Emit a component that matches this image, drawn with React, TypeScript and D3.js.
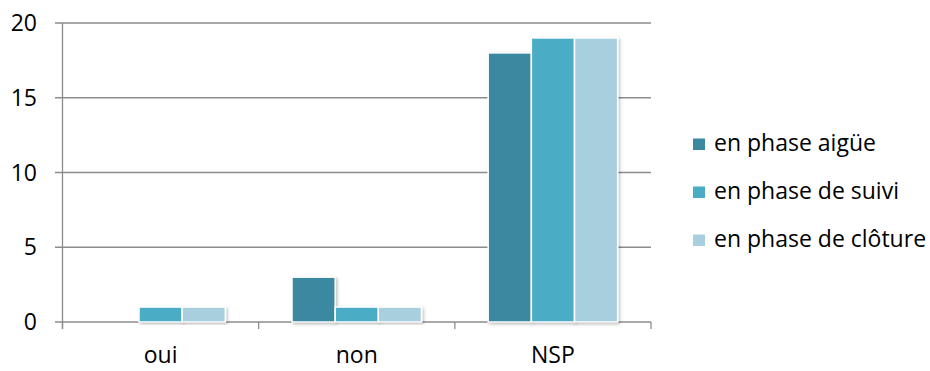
import React from "react";
import * as d3 from "d3";

const categories = ["oui", "non", "NSP"];
const seriesNames = ["en phase aigüe", "en phase de suivi", "en phase de clôture"];
const aigue = [0, 3, 18];
const suivi = [1, 1, 19];
const cloture = [1, 1, 19];
const yTicks = [0, 5, 10, 15, 20];
const colors = ["#3A89A0", "#4BACC6", "#A8CFDE"];

const W = 930;
const H = 371;
const margin = { left: 62.5, right: 279, top: 23, bottom: 49 };

export default function App() {
  const series = [aigue, suivi, cloture];
  const x0 = d3
    .scaleBand<string>()
    .domain(categories)
    .range([margin.left, W - margin.right])
    .paddingInner(0.34)
    .paddingOuter(0.17);
  const x1 = d3
    .scaleBand<number>()
    .domain(d3.range(series.length))
    .range([0, x0.bandwidth()]);
  const y = d3
    .scaleLinear()
    .domain([0, 20])
    .range([H - margin.bottom, margin.top]);
  const font = "'Open Sans', sans-serif";
  const fs = 23;
  const stepW = (W - margin.right - margin.left) / categories.length;

  return (
    <svg
      width={W}
      height={H}
      style={{ position: "absolute", left: 0, top: 0, background: "#fff" }}
      fontFamily={font}
    >
      <defs>
        <filter id="shadow" x="-20%" y="-20%" width="140%" height="140%">
          <feDropShadow dx="1.5" dy="1.5" stdDeviation="1.5" floodColor="#000" floodOpacity="0.25" />
        </filter>
      </defs>
      {yTicks.map((t) => (
        <g key={t}>
          <line
            x1={55}
            x2={W - margin.right}
            y1={y(t)}
            y2={y(t)}
            stroke="#8c8c8c"
            strokeWidth={1.3}
          />
          <text x={37} y={y(t) + 8} textAnchor="end" fontSize={fs} fill="#000">
            {t}
          </text>
        </g>
      ))}
      <line x1={margin.left} x2={margin.left} y1={y(20)} y2={y(0) + 7} stroke="#8c8c8c" strokeWidth={1.3} />
      {d3.range(categories.length + 1).map((i) => (
        <line
          key={i}
          x1={margin.left + i * stepW}
          x2={margin.left + i * stepW}
          y1={y(0)}
          y2={y(0) + 7}
          stroke="#8c8c8c"
          strokeWidth={1.3}
        />
      ))}
      {categories.map((c, ci) => (
        <g key={c}>
          {series.map((s, si) => {
            const v = s[ci];
            if (v <= 0) return null;
            const bx = (x0(c) as number) + (x1(si) as number);
            return (
              <rect
                key={si}
                x={bx}
                y={y(v)}
                width={x1.bandwidth()}
                height={y(0) - y(v)}
                fill={colors[si]}
                stroke="#fff"
                strokeWidth={1.5}
                filter="url(#shadow)"
              />
            );
          })}
          <text
            x={(x0(c) as number) + x0.bandwidth() / 2}
            y={362.5}
            textAnchor="middle"
            fontSize={fs}
            fill="#000"
          >
            {c}
          </text>
        </g>
      ))}
      {seriesNames.map((n, i) => (
        <g key={n} transform={`translate(693, ${150.5 + i * 48})`}>
          <rect x={0} y={-12} width={12} height={11.5} fill={colors[i]} />
          <text x={21} y={0} fontSize={fs} fill="#000">
            {n}
          </text>
        </g>
      ))}
    </svg>
  );
}
